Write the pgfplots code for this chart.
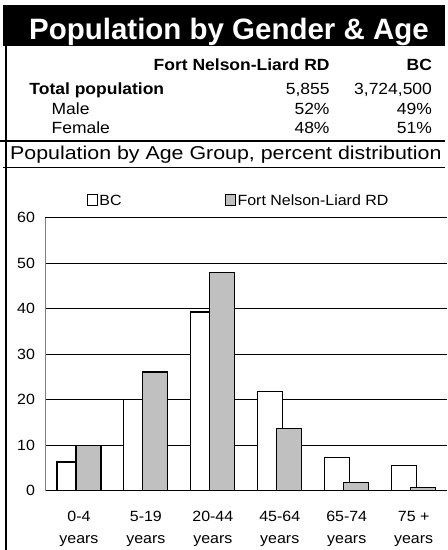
\documentclass[border=0pt]{standalone}
\usepackage{fontspec}
\setmainfont{Liberation Sans}
\newfontfamily\fT{Liberation Sans}
\newfontfamily\fS{Liberation Sans}[FakeStretch=1.08]
\newfontfamily\fW{Liberation Sans}[FakeStretch=1.15]
\newfontfamily\fK{Liberation Sans}[FakeStretch=1.08]
\usepackage{pgfplots}
\pgfplotsset{compat=1.18}
\definecolor{fngray}{HTML}{C0C0C0}
\definecolor{bordergray}{HTML}{808080}

\begin{document}
\begin{tikzpicture}
\begin{scope}[x=1bp,y=-1bp]
\useasboundingbox (0,0) rectangle (445,550);
\fill[black] (3,5.5) rectangle (445,46);
\node[anchor=base west, inner sep=0, text=white, font=\fT\fontsize{29.5bp}{32bp}\selectfont\bfseries] at (29,39.5) {Population by Gender \& Age};
% table
\begin{scope}[every node/.style={inner sep=0, font=\fS\fontsize{16.2bp}{18bp}\selectfont}]
\node[anchor=base east, font=\fS\fontsize{16.2bp}{18bp}\selectfont\bfseries] at (330,71) {Fort Nelson-Liard RD};
\node[anchor=base east, font=\fS\fontsize{16.2bp}{18bp}\selectfont\bfseries] at (432.5,71) {BC};
\node[anchor=base west, font=\fS\fontsize{16.2bp}{18bp}\selectfont\bfseries] at (29.3,94.5) {Total population};
\node[anchor=base east] at (330,94.5) {5,855};
\node[anchor=base east] at (432.5,94.5) {3,724,500};
\node[anchor=base west] at (51.5,114.3) {Male};
\node[anchor=base east] at (330,114.3) {52\%};
\node[anchor=base east] at (432.5,114.3) {49\%};
\node[anchor=base west] at (51.5,134) {Female};
\node[anchor=base east] at (330,134) {48\%};
\node[anchor=base east] at (432.5,134) {51\%};
\end{scope}
\draw[line width=2bp] (0,141) -- (445,141);
\node[anchor=base west, inner sep=0, font=\fW\fontsize{18.6bp}{20bp}\selectfont] at (10,159.5) {Population by Age Group, percent distribution};
\draw[line width=1bp] (3,167.5) -- (445,167.5);
\draw[line width=1.6bp] (6,46) -- (6,550);
\end{scope}
\begin{axis}[
  at={(45.5bp,-491bp)}, anchor=south west,
  scale only axis, width=402bp, height=273bp,
  xmin=-0.5, xmax=5.5, ymin=0, ymax=60,
  ybar,
  axis x line*=bottom, axis y line*=left,
  x axis line style={draw=black, line width=1bp},
  y axis line style={draw=bordergray, line width=1.5bp},
  major tick length=0pt,
  ytick={0,10,...,50},
  extra y ticks={60},
  extra y tick style={grid style={draw=bordergray, line width=1.5bp}},
  ymajorgrids,
  major grid style={draw=black, line width=0.9bp},
  xtick={0,...,5},
  xticklabels={{0-4\\years},{5-19\\years},{20-44\\years},{45-64\\years},{65-74\\years},{75 +\\years}},
  /pgf/number format/assume math mode=true,
  tick label style={font=\fK\fontsize{14.8bp}{21.7bp}\selectfont},
  yticklabel style={xshift=-7bp},
  xticklabel style={align=center, yshift=-17.5bp},
  legend columns=2,
  legend image code/.code={\draw[#1,/tikz/.cd,line width=1.2bp] (0bp,-5.25bp) rectangle (10.5bp,5.25bp);},
  legend style={draw=none, fill=none, inner sep=0pt, at={(axis description cs:0.1017,1.0659)}, anchor=west,
    cells={anchor=west}, nodes={inner sep=1.2bp, text depth=0pt},
    font=\fS\fontsize{14.8bp}{16bp}\selectfont,
    /tikz/every even column/.append style={column sep=102bp}},
]
\addplot[fill=white, draw=black, line width=1.2bp, bar width=25bp, bar shift=-9.5bp]
  coordinates {(0,6.3) (1,20.0) (2,39.3) (3,21.8) (4,7.3) (5,5.5)};
\addplot[fill=fngray, draw=black, line width=1.2bp, bar width=25bp, bar shift=9.5bp]
  coordinates {(0,10.0) (1,26.1) (2,48.0) (3,13.6) (4,1.7) (5,0.7)};
\legend{BC, Fort Nelson-Liard RD}
\end{axis}
\end{tikzpicture}
\end{document}
